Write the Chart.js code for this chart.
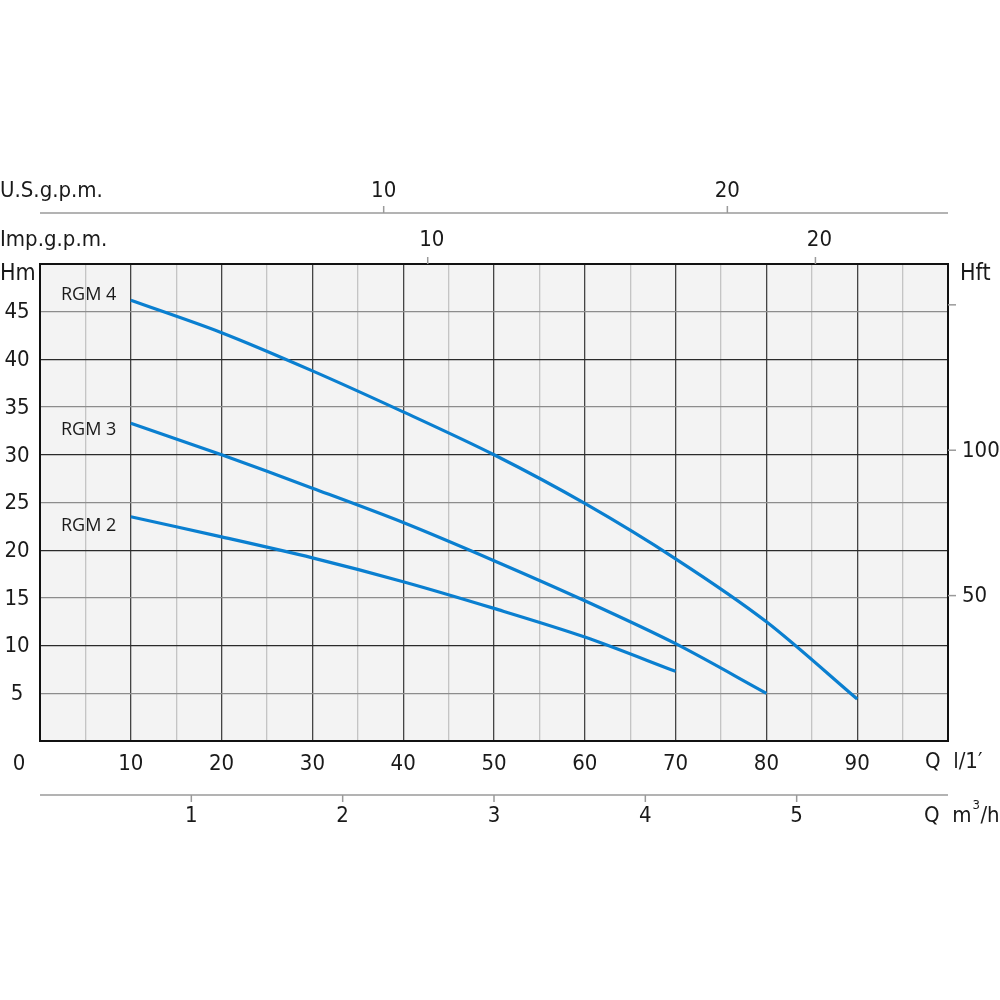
<!DOCTYPE html>
<html>
<head>
<meta charset="utf-8">
<script src="https://cdn.jsdelivr.net/npm/chart.js@4.4.0/dist/chart.umd.min.js"></script>
<style>
    html, body { margin: 0; padding: 0; background: #fff; }
    #curves { display: block; }
</style>
</head>
<body>
<canvas id="curves" width="1000" height="1000"></canvas>
<script>
// pump curves, Q in l/min, H in m
const rgm4Q = [10, 20, 30, 40, 50, 60, 70, 80, 90];
const rgm4H = [46.2, 42.8, 38.8, 34.5, 30.0, 24.9, 19.1, 12.5, 4.4];
const rgm3Q = [10, 20, 30, 40, 50, 60, 70, 80];
const rgm3H = [33.3, 30.0, 26.5, 22.9, 18.9, 14.7, 10.2, 5.0];
const rgm2Q = [10, 20, 30, 40, 50, 60, 70];
const rgm2H = [23.5, 21.4, 19.2, 16.7, 13.9, 10.9, 7.3];
const seriesNames = ["RGM 4", "RGM 3", "RGM 2"];
const nameAtH = [46.8, 32.6, 22.6];   // where the names sit, in m

// tick labels of the main and secondary axes
const qLpmTicks = [10, 20, 30, 40, 50, 60, 70, 80, 90];
const hmTicks = [5, 10, 15, 20, 25, 30, 35, 40, 45];
const usGpmTicks = [10, 20];
const impGpmTicks = [10, 20];
const m3hTicks = [1, 2, 3, 4, 5];
const hftTicks = [50, 100, 150];
const hftLabels = ["50", "100", ""];

// unit conversions to l/min and m
const usGallon = 3.785;
const impGallon = 4.27;   // as drawn on the sheet
const m3hToLpm = 1000 / 60;
const footToM = 0.3048;

const blue = "#0a7fd0";
const axisFont = '"DejaVu Sans Condensed", "DejaVu Sans", sans-serif';
const textColor = "#1a1a1a";

function toPoints(qs, hs) {
    var pts = [];
    for (var i = 0; i < qs.length; i++) {
        pts.push({ x: qs[i], y: hs[i] });
    }
    return pts;
}

function makeSet(label, qs, hs) {
    return {
        label: label,
        data: toPoints(qs, hs),
        borderColor: blue,
        borderWidth: 3.2,
        pointRadius: 0,
        fill: false,
        tension: 0.3
    };
}

const sheetPlugin = {
    id: "sheet",
    beforeDraw(chart) {
        const ctx = chart.ctx;
        const a = chart.chartArea;
        ctx.save();
        ctx.fillStyle = "#f3f3f3";
        ctx.fillRect(a.left, a.top, a.right - a.left, a.bottom - a.top);
        ctx.restore();
    },
    afterDraw(chart) {
        const ctx = chart.ctx;
        const a = chart.chartArea;
        const xs = chart.scales.x;
        const ys = chart.scales.y;
        ctx.save();

        // frame
        ctx.strokeStyle = "#111";
        ctx.lineWidth = 2;
        ctx.strokeRect(a.left, a.top, a.right - a.left, a.bottom - a.top);

        ctx.fillStyle = textColor;
        ctx.textBaseline = "middle";
        ctx.font = "22px " + axisFont;

        // Q l/1' labels
        ctx.textAlign = "center";
        qLpmTicks.forEach(function (v) {
            ctx.fillText(String(v), xs.getPixelForValue(v), 764);
        });
        ctx.fillText("0", 19, 764);
        ctx.textAlign = "left";
        ctx.fillText("Q  l/1\u2032", 925, 762);

        // Hm labels
        ctx.textAlign = "center";
        hmTicks.forEach(function (v) {
            ctx.fillText(String(v), 17, ys.getPixelForValue(v) + 1);
        });
        ctx.textAlign = "left";
        ctx.font = "23px " + axisFont;
        ctx.fillText("Hm", 0, 274);
        ctx.fillText("Hft", 960, 274);
        ctx.font = "22px " + axisFont;

        // U.S.g.p.m. axis
        ctx.strokeStyle = "#9a9a9a";
        ctx.lineWidth = 1.5;
        ctx.beginPath();
        ctx.moveTo(a.left, 213);
        ctx.lineTo(a.right, 213);
        ctx.stroke();
        ctx.fillText("U.S.g.p.m.", 0, 191);
        ctx.textAlign = "center";
        usGpmTicks.forEach(function (v) {
            const px = xs.getPixelForValue(v * usGallon);
            ctx.beginPath();
            ctx.moveTo(px, 206);
            ctx.lineTo(px, 213);
            ctx.stroke();
            ctx.fillText(String(v), px, 191);
        });

        // Imp.g.p.m. axis (sits on the frame)
        ctx.textAlign = "left";
        ctx.fillText("Imp.g.p.m.", 0, 240);
        ctx.textAlign = "center";
        impGpmTicks.forEach(function (v) {
            const px = xs.getPixelForValue(v * impGallon);
            ctx.beginPath();
            ctx.moveTo(px, 257);
            ctx.lineTo(px, a.top);
            ctx.stroke();
            ctx.fillText(String(v), px + 4, 240);
        });

        // Q m3/h axis
        ctx.beginPath();
        ctx.moveTo(a.left, 795);
        ctx.lineTo(a.right, 795);
        ctx.stroke();
        m3hTicks.forEach(function (v) {
            const px = xs.getPixelForValue(v * m3hToLpm);
            ctx.beginPath();
            ctx.moveTo(px, 795);
            ctx.lineTo(px, 802);
            ctx.stroke();
            ctx.fillText(String(v), px, 816);
        });
        ctx.textAlign = "left";
        ctx.fillText("Q  m", 924, 816);
        const mW = ctx.measureText("Q  m").width;
        ctx.font = "13px " + axisFont;
        ctx.fillText("3", 924 + mW + 1, 806);
        ctx.font = "22px " + axisFont;
        ctx.fillText("/h", 924 + mW + 9, 816);

        // Hft ticks
        hftTicks.forEach(function (v, i) {
            const py = ys.getPixelForValue(v * footToM);
            ctx.beginPath();
            ctx.moveTo(a.right, py);
            ctx.lineTo(a.right + 8, py);
            ctx.stroke();
            ctx.fillText(hftLabels[i], a.right + 14, py + 1);
        });

        // series names at curve starts
        ctx.font = '18px "Open Sans", "Noto Sans", sans-serif';
        ctx.textAlign = "left";
        seriesNames.forEach(function (name, i) {
            ctx.fillText(name, 61, ys.getPixelForValue(nameAtH[i]));
        });

        ctx.restore();
    }
};

new Chart(document.getElementById("curves"), {
    type: "line",
    data: {
        datasets: [
            makeSet(seriesNames[0], rgm4Q, rgm4H),
            makeSet(seriesNames[1], rgm3Q, rgm3H),
            makeSet(seriesNames[2], rgm2Q, rgm2H)
        ]
    },
    options: {
        responsive: false,
        animation: false,
        layout: { padding: { left: 40, top: 264, right: 52, bottom: 259 } },
        plugins: { legend: { display: false }, tooltip: { enabled: false } },
        scales: {
            x: {
                type: "linear",
                min: 0,
                max: 100,
                ticks: { display: false, stepSize: 5 },
                border: { display: false },
                grid: {
                    drawTicks: false,
                    color: function (c) { return c.tick.value % 10 === 0 ? "#444" : "#c4c4c4"; },
                    lineWidth: 1.3
                },
                afterFit: function (s) { s.height = 0; }
            },
            y: {
                type: "linear",
                min: 0,
                max: 50,
                ticks: { display: false, stepSize: 5 },
                border: { display: false },
                grid: {
                    drawTicks: false,
                    color: function (c) { return c.tick.value % 10 === 0 ? "#2a2a2a" : "#8c8c8c"; },
                    lineWidth: 1.3
                },
                afterFit: function (s) { s.width = 0; }
            }
        }
    },
    plugins: [sheetPlugin]
});
</script>
</body>
</html>
